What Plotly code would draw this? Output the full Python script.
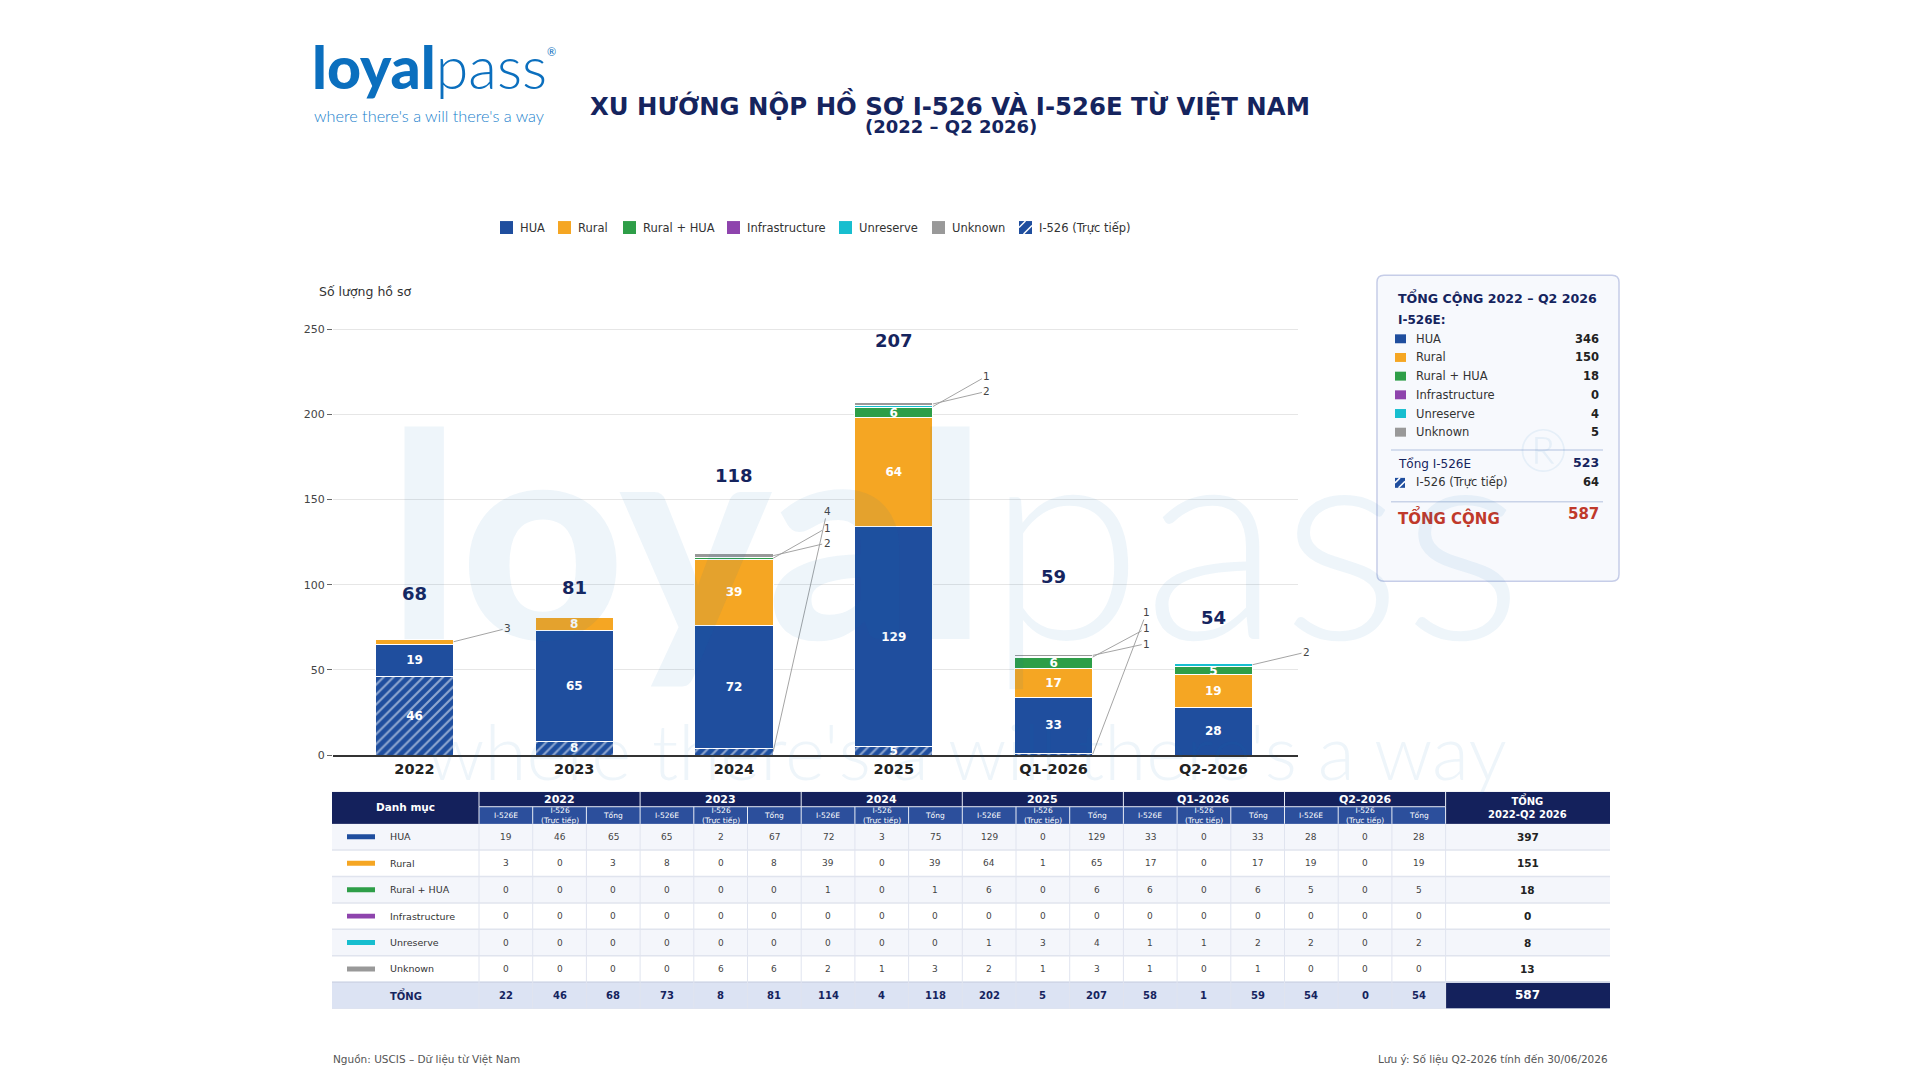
#!/usr/bin/env python3
"""
I-526 / I-526E filing trend from Vietnam, 2022 - Q2 2026.

Stacked bars (I-526 direct hatched at the bottom, I-526E by category on top),
a summary box on the right and the detail table underneath.
"""

import plotly.graph_objects as go

W, H = 1920, 1080
FONT = "DejaVu Sans"
LOGO_FONT = "Lato"
NAVY = "#15245e"
HEAD_NAVY = "#14215c"
SUB_BLUE = "#2c4f9c"
LOGO_BLUE = "#0b6fbe"
WATERMARK = "rgba(11,111,190,0.07)"

PERIODS = ["2022", "2023", "2024", "2025", "Q1-2026", "Q2-2026"]
CATEGORIES = ["HUA", "Rural", "Rural + HUA", "Infrastructure", "Unreserve", "Unknown"]
CAT_COLORS = ["#1f4e9e", "#f5a623", "#2e9e48", "#8e44ad", "#17becf", "#999999"]

# I-526E filings per period
E_HUA = [19, 65, 72, 129, 33, 28]
E_RURAL = [3, 8, 39, 64, 17, 19]
E_RURAL_HUA = [0, 0, 1, 6, 6, 5]
E_INFRA = [0, 0, 0, 0, 0, 0]
E_UNRESERVE = [0, 0, 0, 1, 1, 2]
E_UNKNOWN = [0, 0, 2, 2, 1, 0]

# I-526 (direct) filings per period
D_HUA = [46, 2, 3, 0, 0, 0]
D_RURAL = [0, 0, 0, 1, 0, 0]
D_RURAL_HUA = [0, 0, 0, 0, 0, 0]
D_INFRA = [0, 0, 0, 0, 0, 0]
D_UNRESERVE = [0, 0, 0, 3, 1, 0]
D_UNKNOWN = [0, 6, 1, 1, 0, 0]

SUB_COLS = ["I-526E", "I-526<br>(Trực tiếp)", "Tổng"]
DIRECT_NAME = "I-526 (Trực tiếp)"

TITLE = "XU HƯỚNG NỘP HỒ SƠ I-526 VÀ I-526E TỪ VIỆT NAM"
SUBTITLE = "(2022 – Q2 2026)"
Y_TITLE = "Số lượng hồ sơ"
SOURCE_NOTE = "Nguồn: USCIS – Dữ liệu từ Việt Nam"
DATE_NOTE = "Lưu ý: Số liệu Q2-2026 tính đến 30/06/2026"
TAGLINE = "where there's a will there's a way"

I526E = [E_HUA, E_RURAL, E_RURAL_HUA, E_INFRA, E_UNRESERVE, E_UNKNOWN]
I526 = [D_HUA, D_RURAL, D_RURAL_HUA, D_INFRA, D_UNRESERVE, D_UNKNOWN]

e_tot = [sum(col) for col in zip(*I526E)]
d_tot = [sum(col) for col in zip(*I526)]
period_tot = [a + b for a, b in zip(e_tot, d_tot)]

# chart geometry (pixels on the 1920x1080 page)
PLOT_L, PLOT_R, PLOT_T, PLOT_B = 333, 1298, 314, 760
X_RANGE = [-0.51, 5.53]
Y_MAX = 260
PX_PER_UNIT = (PLOT_B - PLOT_T) / Y_MAX
BAR_W = 0.49
INSIDE_MIN = 5

# hand-placed legend (left edge of each swatch)
LEGEND_X = [500, 558, 623, 727, 839, 932, 1019]
LEGEND_Y = 229


def px(x):
    return x / W


def py(y):
    return 1 - y / H


def add_text(fig, x, y, text, size, color, anchor="left", weight="normal", family=FONT):
    fig.add_annotation(
        x=px(x), y=py(y), xref="paper", yref="paper", text=text, showarrow=False,
        xanchor=anchor, yanchor="middle",
        font=dict(family=family, size=size, color=color, weight=weight),
    )


def add_rect(fig, x0, y0, x1, y1, color, layer="above"):
    fig.add_shape(
        type="rect", xref="paper", yref="paper",
        x0=px(x0), x1=px(x1), y0=py(y1), y1=py(y0),
        fillcolor=color, line=dict(width=0), layer=layer,
    )


def add_line(fig, x0, y0, x1, y1, color, width, ref="paper"):
    if ref == "paper":
        fig.add_shape(type="line", xref="paper", yref="paper", x0=px(x0), x1=px(x1),
                      y0=py(y0), y1=py(y1), line=dict(color=color, width=width))
    else:
        fig.add_shape(type="line", xref="x2", yref="y2", x0=x0, x1=x1, y0=y0, y1=y1,
                      line=dict(color=color, width=width))


def hatched_icon(fig, x0, y0, size):
    add_rect(fig, x0, y0, x0 + size, y0 + size, CAT_COLORS[0])
    add_line(fig, x0, y0 + size * 0.5, x0 + size * 0.5, y0, "white", 1.5)
    add_line(fig, x0 + size * 0.35, y0 + size, x0 + size, y0 + size * 0.35, "white", 1.5)


def rounded_path(x0, y0, x1, y1, r):
    return (
        f"M {px(x0 + r)},{py(y0)} L {px(x1 - r)},{py(y0)} "
        f"Q {px(x1)},{py(y0)} {px(x1)},{py(y0 + r)} L {px(x1)},{py(y1 - r)} "
        f"Q {px(x1)},{py(y1)} {px(x1 - r)},{py(y1)} L {px(x0 + r)},{py(y1)} "
        f"Q {px(x0)},{py(y1)} {px(x0)},{py(y1 - r)} L {px(x0)},{py(y0 + r)} "
        f"Q {px(x0)},{py(y0)} {px(x0 + r)},{py(y0)} Z"
    )


def bar_labels(vals):
    return [f"<b>{v}</b>" if v >= INSIDE_MIN else "" for v in vals]


fig = go.Figure()

bar_common = dict(
    width=BAR_W, textposition="inside", insidetextanchor="middle", textangle=0,
    constraintext="none", hoverinfo="skip", showlegend=False,
    textfont=dict(family=FONT, size=12, color="white"),
)

# I-526 direct, hatched at the bottom of every stack
fig.add_trace(go.Bar(
    x=PERIODS, y=d_tot, name=DIRECT_NAME, text=bar_labels(d_tot),
    marker=dict(
        color=CAT_COLORS[0], line=dict(color="white", width=1),
        pattern=dict(shape="/", fgcolor="white", bgcolor=CAT_COLORS[0], size=7, solidity=0.3),
    ),
    **bar_common,
))
for name, color, vals in zip(CATEGORIES, CAT_COLORS, I526E):
    fig.add_trace(go.Bar(
        x=PERIODS, y=vals, name=name, text=bar_labels(vals),
        marker=dict(color=color, line=dict(color="white", width=1)),
        **bar_common,
    ))

# leader labels for thin segments, then the period totals above them
for i, total in enumerate(period_tot):
    stack = [d_tot[i]] + [vals[i] for vals in I526E]
    small = []
    base = 0
    for v in stack:
        if 0 < v < INSIDE_MIN:
            small.append((base + v / 2, v))
        base += v
    n = len(small)
    for k, (mid, v) in enumerate(small):
        lift = 11 + (n - 1 - k) * 15.4
        fig.add_annotation(
            x=i + BAR_W / 2, y=mid, xref="x", yref="y", text=str(v),
            showarrow=True, arrowhead=0, arrowwidth=0.9, arrowcolor="#9a9a9a",
            ax=54, ay=-((total - mid) * PX_PER_UNIT + lift), standoff=0,
            font=dict(family=FONT, size=10.5, color="#444"),
        )
    fig.add_annotation(
        x=i, y=total, xref="x", yref="y", text=f"<b>{total}</b>", showarrow=False,
        yshift=30 + 16 * n, yanchor="middle",
        font=dict(family=FONT, size=18, color=NAVY),
    )

# legend row
for k, (name, x) in enumerate(zip(CATEGORIES + [DIRECT_NAME], LEGEND_X)):
    if k < len(CATEGORIES):
        add_rect(fig, x, LEGEND_Y - 6.5, x + 13, LEGEND_Y + 6.5, CAT_COLORS[k])
    else:
        hatched_icon(fig, x, LEGEND_Y - 6.5, 13)
    add_text(fig, x + 18, LEGEND_Y, name, 11.5, "#333")

# logo, titles, axis caption
add_text(fig, 310, 67,
         "<span style='font-weight:900'>loyal</span><span style='font-weight:300'>pass</span>",
         59, LOGO_BLUE, family=LOGO_FONT)
add_text(fig, 551, 52, "®", 11, LOGO_BLUE, anchor="center", family=LOGO_FONT)
add_text(fig, 312, 116, TAGLINE, 16.3, "#1b7fcc", weight=300, family=LOGO_FONT)
add_text(fig, 950, 105, f"<b>{TITLE}</b>", 24.4, NAVY, anchor="center")
add_text(fig, 951, 127, f"<b>{SUBTITLE}</b>", 18, NAVY, anchor="center")
add_text(fig, 317, 293, Y_TITLE, 12.5, "#333")

# summary box
BOX_L, BOX_T, BOX_R, BOX_B = 1377, 277, 1619, 585
fig.add_shape(type="path", xref="paper", yref="paper",
              path=rounded_path(BOX_L, BOX_T, BOX_R, BOX_B, 7),
              fillcolor="#f7f9fd", line=dict(color="#c6cde8", width=1.5), layer="below")
TXT_L, VAL_R, ICON_L = 1396, 1601, 1395
add_text(fig, TXT_L, 299, "<b>TỔNG CỘNG 2022 – Q2 2026</b>", 12.6, NAVY)
add_text(fig, TXT_L, 322, "<b>I-526E:</b>", 12, NAVY)
cat_e_sum = [sum(vals) for vals in I526E]
for k, (name, color, v) in enumerate(zip(CATEGORIES, CAT_COLORS, cat_e_sum)):
    y = 341 + k * 18.8
    add_rect(fig, ICON_L, y - 4.5, ICON_L + 11, y + 4.5, color)
    add_text(fig, 1414, y, name, 11.5, "#333")
    add_text(fig, VAL_R, y, f"<b>{v}</b>", 11.5, "#222", anchor="right")
add_line(fig, 1391, 453, 1603, 453, "#c9d3e8", 1.5)
add_text(fig, TXT_L, 467, "Tổng I-526E", 12, NAVY)
add_text(fig, VAL_R, 466, f"<b>{sum(e_tot)}</b>", 12.5, NAVY, anchor="right")
hatched_icon(fig, ICON_L, 481, 10)
add_text(fig, 1414, 485, DIRECT_NAME, 11.5, "#333")
add_text(fig, VAL_R, 485, f"<b>{sum(d_tot)}</b>", 11.5, "#222", anchor="right")
add_line(fig, 1391, 505, 1603, 505, "#c9d3e8", 1.5)
add_text(fig, TXT_L, 520, "<b>TỔNG CỘNG</b>", 15, "#c0392b")
add_text(fig, VAL_R, 517, f"<b>{sum(period_tot)}</b>", 15, "#c0392b", anchor="right")

# watermark drawn over the chart, very light
add_text(fig, 386, 532,
         "<span style='font-weight:900'>loyal</span><span style='font-weight:300'>pass</span>",
         285, WATERMARK, family=LOGO_FONT)
add_text(fig, 1543, 452, "®", 60, WATERMARK, anchor="center", weight=300, family=LOGO_FONT)
add_text(fig, 966, 755, TAGLINE, 76.5, WATERMARK, anchor="center", weight=300, family=LOGO_FONT)

# ---- detail table, drawn on its own pixel-scaled axes ----
TAB_L, TAB_T = 332, 797
COL0_W, SUB_W, LAST_W = 147, 53.7, 164.4
HEAD1_H, HEAD2_H, ROW_H = 15, 17, 26.6
ROW_A, ROW_B, TOTAL_FILL = "#f4f6fb", "#ffffff", "#dce3f3"

n_sub = 3 * len(PERIODS)
col_edges = [TAB_L, TAB_L + COL0_W]
for _ in range(n_sub):
    col_edges.append(col_edges[-1] + SUB_W)
col_edges.append(col_edges[-1] + LAST_W)
TAB_R = col_edges[-1]
n_body = len(CATEGORIES) + 1
row_edges = [TAB_T, TAB_T + HEAD1_H, TAB_T + HEAD1_H + HEAD2_H]
for _ in range(n_body):
    row_edges.append(row_edges[-1] + ROW_H)
TAB_B = row_edges[-1]
col_mid = [(a + b) / 2 for a, b in zip(col_edges[:-1], col_edges[1:])]
row_mid = [(a + b) / 2 for a, b in zip(row_edges[:-1], row_edges[1:])]
n_cols = len(col_mid)

# fill codes: 0 navy, 1 sub-header blue, 2 / 3 striped body, 4 total row
fill_codes = [[0] * n_cols, [0] + [1] * n_sub + [0]]
for r in range(len(CATEGORIES)):
    fill_codes.append([2 if r % 2 == 0 else 3] * n_cols)
fill_codes.append([4] * (n_cols - 1) + [0])
palette = [HEAD_NAVY, SUB_BLUE, ROW_A, ROW_B, TOTAL_FILL]
scale = []
for k, c in enumerate(palette):
    scale += [[k / len(palette), c], [(k + 1) / len(palette), c]]

fig.add_trace(go.Heatmap(
    x=col_edges, y=row_edges, z=fill_codes, xaxis="x2", yaxis="y2",
    colorscale=scale, zmin=-0.5, zmax=len(palette) - 0.5, showscale=False,
    hoverinfo="skip",
))


def cell(col, row, text, size, color, anchor="center", x=None):
    fig.add_annotation(
        x=col_mid[col] if x is None else x, y=row_mid[row], xref="x2", yref="y2",
        text=text, showarrow=False, xanchor=anchor, yanchor="middle",
        font=dict(family=FONT, size=size, color=color),
    )


# grid lines
for y in row_edges[3:-1]:
    add_line(fig, TAB_L, y, TAB_R, y, "#e0e4ee", 1.5, ref="table")
add_line(fig, TAB_L, row_edges[-2], TAB_R, row_edges[-2], "#c8d0e4", 1, ref="table")
add_line(fig, TAB_L, TAB_B, TAB_R, TAB_B, "#c8d0e4", 1, ref="table")
for x in col_edges[1:-1]:
    add_line(fig, x, row_edges[2], x, TAB_B, "#e0e4ef", 1, ref="table")
    add_line(fig, x, row_edges[1], x, row_edges[2], "#e8ecf5", 1, ref="table")
for x in col_edges[1:-1:3]:
    add_line(fig, x, TAB_T, x, row_edges[1], "#e8ecf5", 1, ref="table")
add_line(fig, col_edges[1], row_edges[1], col_edges[-2], row_edges[1], "#e8ecf5", 1, ref="table")

# header text
fig.add_annotation(x=col_mid[0], y=row_edges[1], xref="x2", yref="y2", text="<b>Danh mục</b>",
                   showarrow=False, font=dict(family=FONT, size=10.5, color="white"))
fig.add_annotation(x=col_mid[-1], y=row_edges[1], xref="x2", yref="y2",
                   text="<b>TỔNG<br>2022-Q2 2026</b>", showarrow=False,
                   font=dict(family=FONT, size=10, color="white"))
for p, period in enumerate(PERIODS):
    fig.add_annotation(x=col_mid[2 + 3 * p], y=row_mid[0], xref="x2", yref="y2",
                       text=f"<b>{period}</b>", showarrow=False,
                       font=dict(family=FONT, size=11, color="white"))
    for s, sub in enumerate(SUB_COLS):
        cell(1 + 3 * p + s, 1, sub, 7.5, "white")

# body
overall = [sum(e) + sum(d) for e, d in zip(I526E, I526)]
for r, (name, color) in enumerate(zip(CATEGORIES, CAT_COLORS)):
    row = 2 + r
    y_mid = row_mid[row]
    fig.add_shape(type="rect", xref="x2", yref="y2", x0=TAB_L + 15, x1=TAB_L + 43,
                  y0=y_mid - 2.5, y1=y_mid + 2.5, fillcolor=color, line=dict(width=0))
    cell(0, row, name, 9.5, "#333", anchor="left", x=TAB_L + 56)
    for p in range(len(PERIODS)):
        e, d = I526E[r][p], I526[r][p]
        for s, v in enumerate((e, d, e + d)):
            cell(1 + 3 * p + s, row, str(v), 9, "#444")
    cell(n_cols - 1, row, f"<b>{overall[r]}</b>", 10.5, "#222")

tot_row = 2 + len(CATEGORIES)
cell(0, tot_row, "<b>TỔNG</b>", 10, NAVY)
for p in range(len(PERIODS)):
    for s, v in enumerate((e_tot[p], d_tot[p], period_tot[p])):
        cell(1 + 3 * p + s, tot_row, f"<b>{v}</b>", 10, NAVY)
cell(n_cols - 1, tot_row, f"<b>{sum(overall)}</b>", 12, "white")

# footer
add_text(fig, 331, 1066, SOURCE_NOTE, 10.5, "#555")
add_text(fig, 1610, 1066, DATE_NOTE, 10.5, "#555", anchor="right")

fig.update_layout(
    width=W, height=H, margin=dict(l=0, r=0, t=0, b=0),
    paper_bgcolor="white", plot_bgcolor="white",
    barmode="stack", showlegend=False,
    font=dict(family=FONT, color="#333"),
    xaxis=dict(
        domain=[px(PLOT_L), px(PLOT_R)], range=X_RANGE, showline=True, linecolor="#333",
        linewidth=1.5, ticks="", showgrid=False, fixedrange=True,
        tickfont=dict(family=FONT, size=14.5, color="#222", weight="bold"),
    ),
    yaxis=dict(
        domain=[py(PLOT_B), py(PLOT_T)], range=[0, Y_MAX], dtick=50,
        ticks="outside", ticklen=5, tickcolor="#666", showline=False, zeroline=False,
        gridcolor="#e6e6e6", fixedrange=True,
        tickfont=dict(family=FONT, size=11, color="#444"),
    ),
    xaxis2=dict(domain=[px(TAB_L), px(TAB_R)], range=[TAB_L, TAB_R], visible=False,
                fixedrange=True),
    yaxis2=dict(domain=[py(TAB_B), py(TAB_T)], range=[TAB_B, TAB_T], visible=False,
                fixedrange=True),
)

fig.write_html("out.html", config={"displayModeBar": False},
               post_script="document.body.style.margin = '0';")
